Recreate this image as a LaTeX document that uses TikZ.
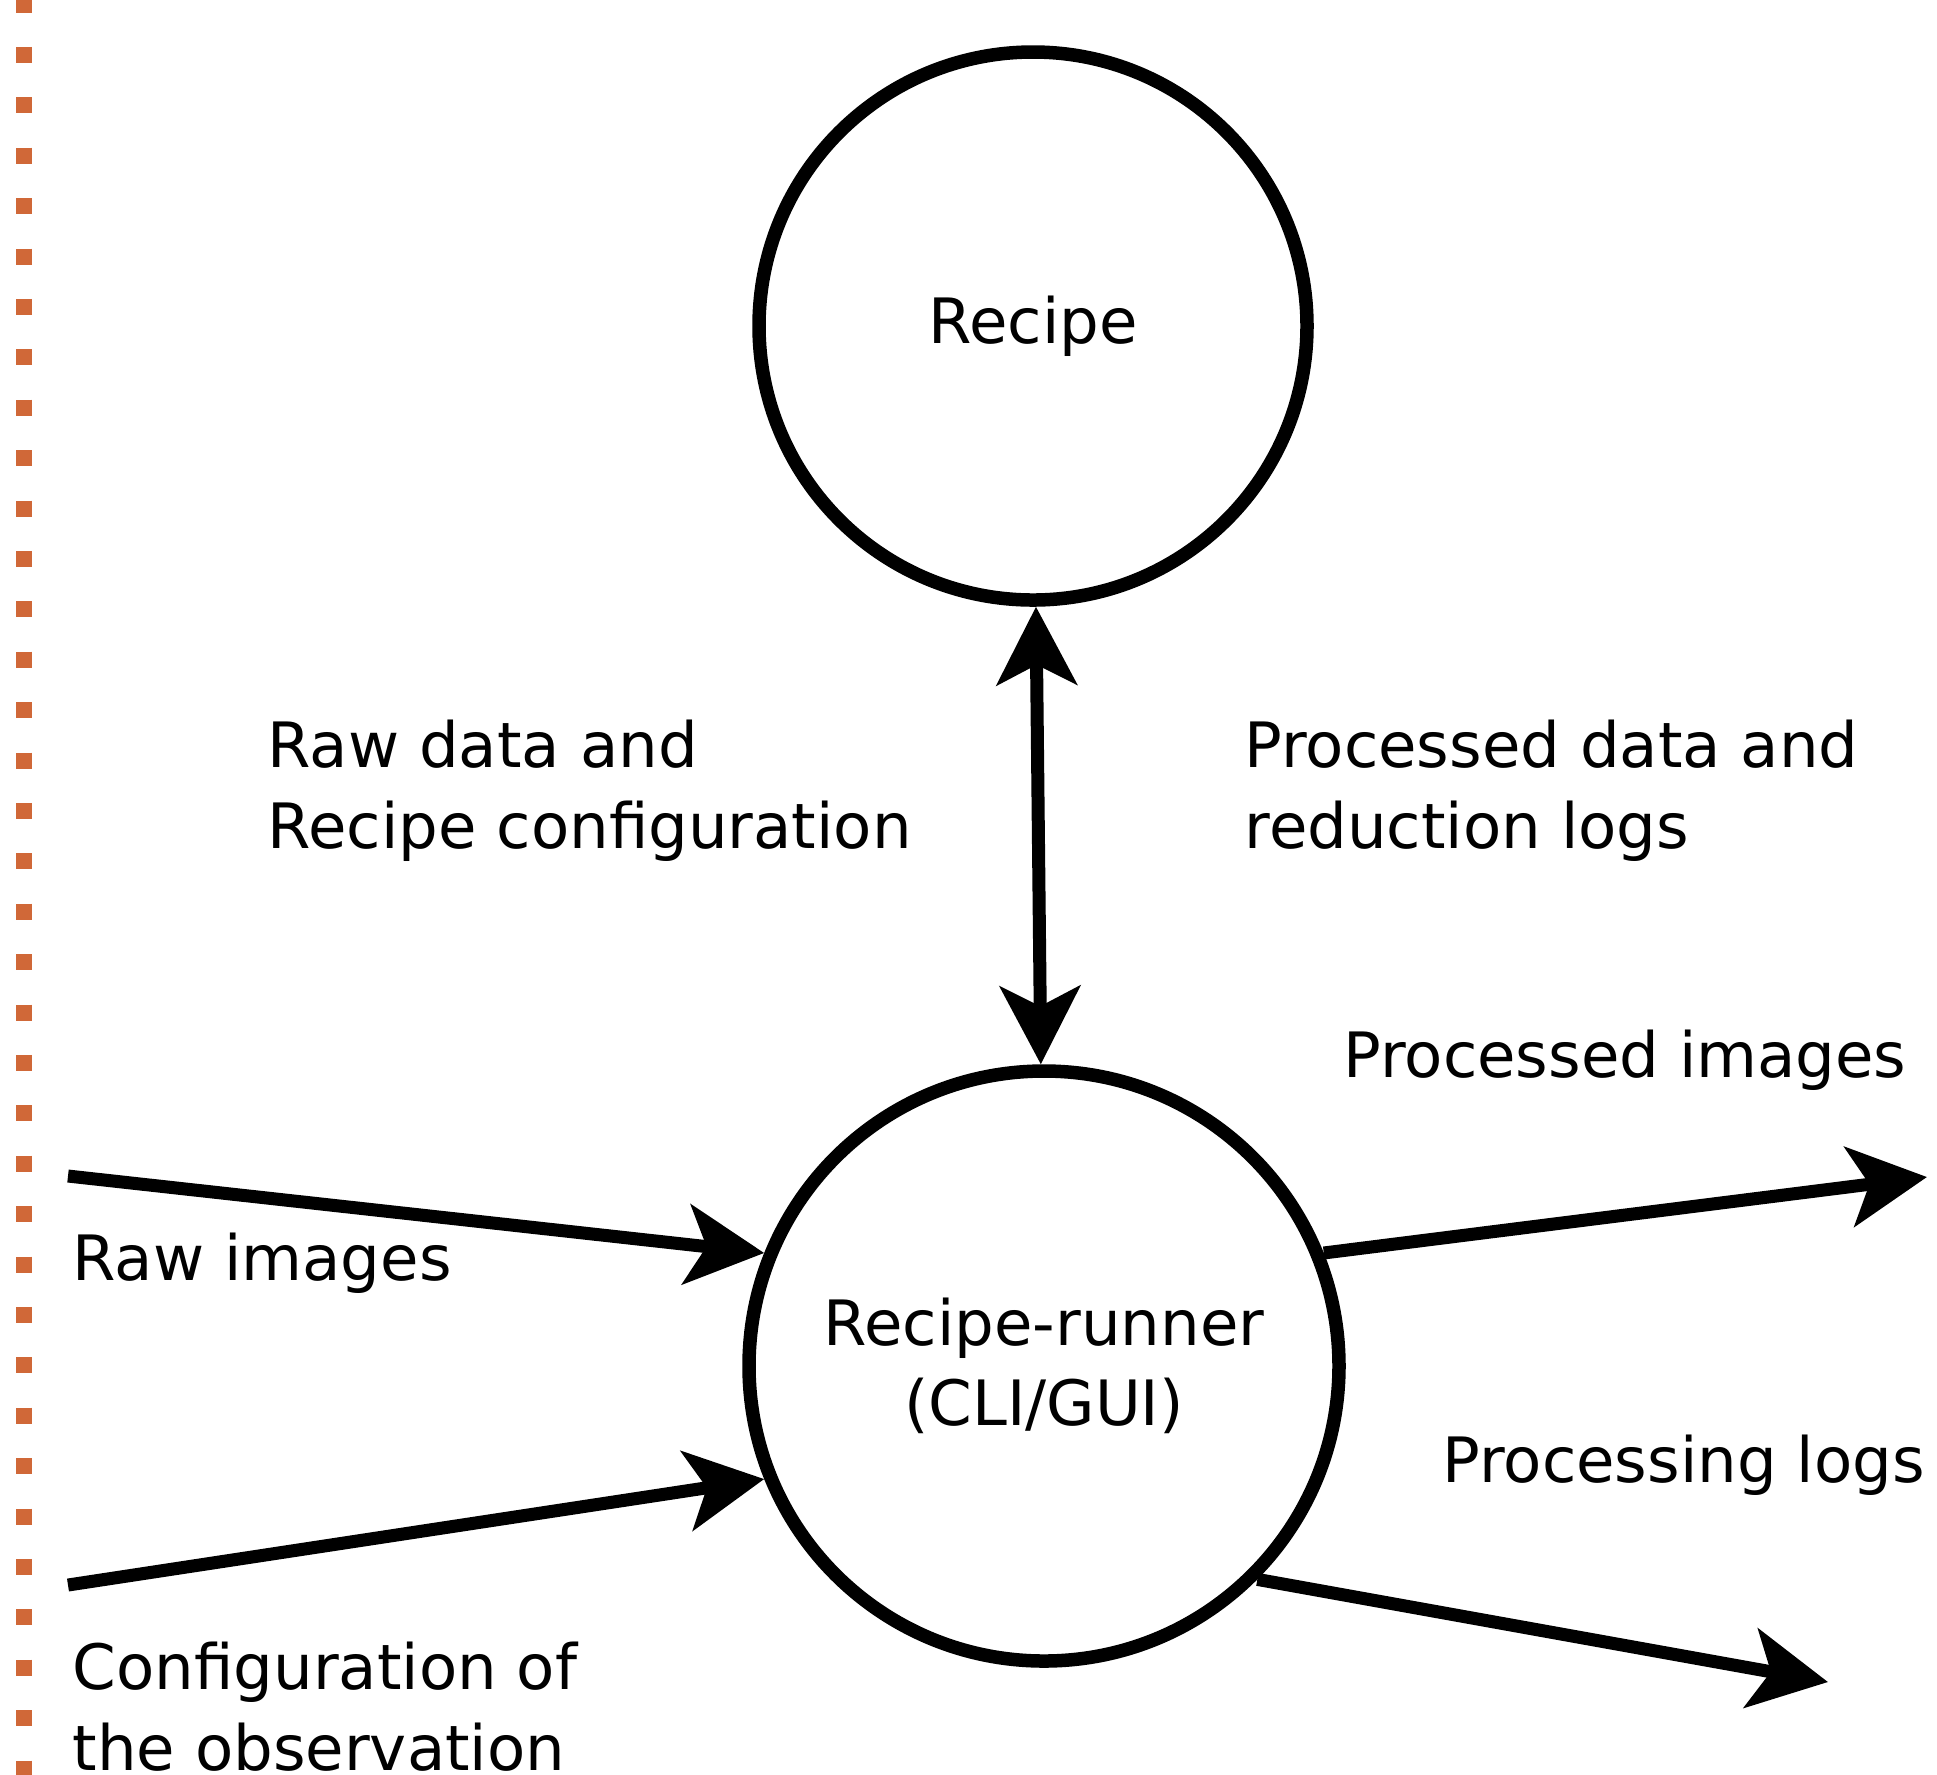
\documentclass[tikz,border=0pt]{standalone}
\usepackage{fontspec}
\setmainfont{DejaVu Sans}
\usetikzlibrary{arrows.meta}

\definecolor{dotorange}{RGB}{208,104,56}
\tikzstyle{proc} = [draw, circle, line width=1.35mm, inner sep=0pt, align=center, font=\fontsize{17.8}{22.8}\selectfont]
\tikzstyle{flow} = [draw, line width=1.3mm, -{Stealth[length=7.8mm,width=8mm,inset=2mm]}]
\tikzstyle{twoway} = [draw, line width=1.3mm, {Stealth[length=7.8mm,width=8mm,inset=2mm]}-{Stealth[length=7.8mm,width=8mm,inset=2mm]}]
\tikzstyle{flowtext} = [anchor=base west, align=left, inner sep=0pt, font=\fontsize{17.8}{22.8}\selectfont]

\begin{document}
\begin{tikzpicture}[]
		\useasboundingbox (0,0) rectangle (19.37,-17.74);
		
		%margin
		\draw[dotorange, line width=1.6mm, dash pattern=on 1.6mm off 3.44mm] (0.24,0.035) -- (0.24,-17.9);
		%processes
		\node[proc, minimum size=5.48cm] (recipe) at (10.33,-3.26) {Recipe};
		\node[proc, minimum size=5.9cm] (runner) at (10.44,-13.66) {Recipe-runner\\(CLI/GUI)};
		%labels (two-line ones sit on their last baseline)
		\node[flowtext] (rawcfg) at (2.67,-8.48) {Raw data and\\Recipe configuration};
		\node[flowtext] (proccfg) at (12.44,-8.48) {Processed data and\\reduction logs};
		\node[flowtext] (procimg) at (13.43,-10.77) {Processed images};
		\node[flowtext] (rawimg) at (0.72,-12.80) {Raw images};
		\node[flowtext] (proclog) at (14.42,-14.82) {Processing logs};
		\node[flowtext] (obscfg) at (0.72,-17.70) {Configuration of\\the observation};
		%free ends
		\coordinate (rawin) at (0.68,-11.76);
		\coordinate (cfgin) at (0.68,-15.85);
		\coordinate (imgout) at (19.27,-11.77);
		\coordinate (logout) at (18.28,-16.82);
		%arrows
		\draw[twoway] (recipe) -- (runner);
		\draw[flow] (rawin) -- (runner.158);
		\draw[flow] (cfgin) -- (runner.202);
		\draw[flow] (runner.22) -- (imgout);
		\draw[flow] (runner.315) -- (logout);
\end{tikzpicture}
\end{document}
